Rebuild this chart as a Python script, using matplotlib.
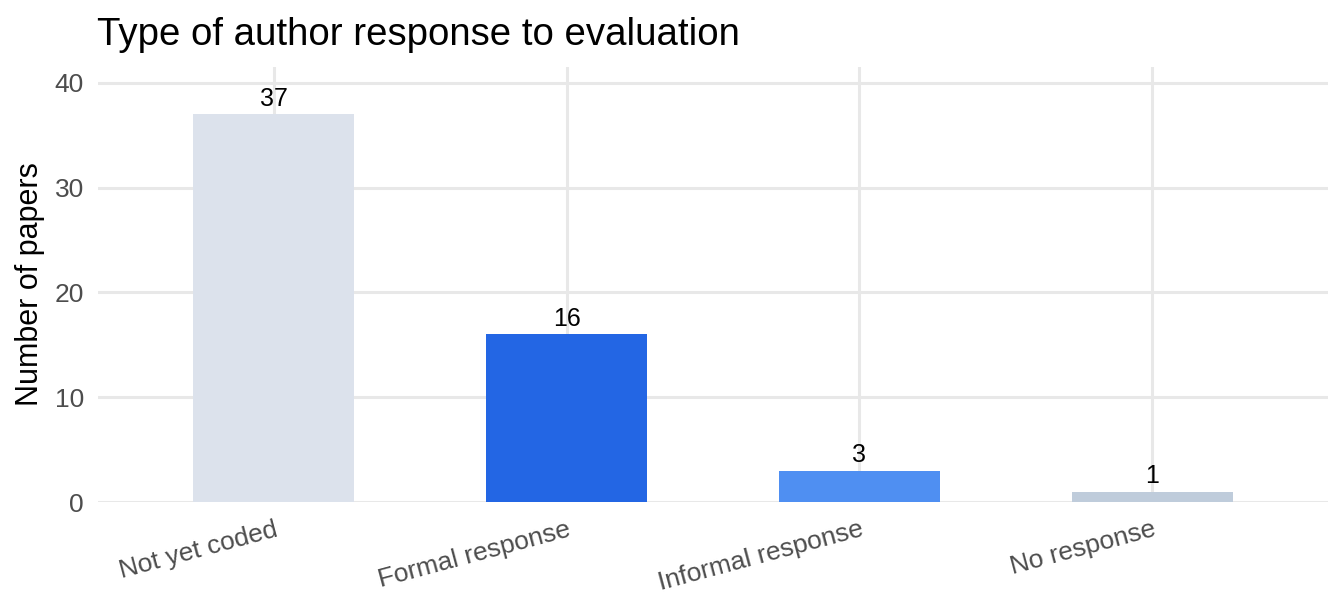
import matplotlib.pyplot as plt
import numpy as np

plt.rcParams['font.family'] = ['Liberation Sans', 'DejaVu Sans']

categories = ['Not yet coded', 'Formal response', 'Informal response', 'No response']
counts = [37, 16, 3, 1]
bar_colors = ['#DCE2EC', '#2366E4', '#4F8FF2', '#BFCCDB']
y_ticks = [0, 10, 20, 30, 40]

fig = plt.figure(figsize=(13.44, 6.14), dpi=100)
ax = fig.add_axes([98 / 1344, 1 - 502 / 614, 1230 / 1344, (502 - 67) / 614])

x = np.arange(len(categories))
ax.bar(x, counts, width=0.55, color=bar_colors, zorder=3)

for xi, c in zip(x, counts):
    ax.text(xi, c + 0.3, str(c), ha='center', va='bottom', fontsize=18, color='black', zorder=4)

ax.set_xlim(-0.6, 3.6)
ax.set_ylim(0, 41.5)
ax.set_yticks(y_ticks)
ax.set_xticks(x)
ax.set_xticklabels(categories, rotation=15, ha='right', va='top', rotation_mode='anchor')

ax.grid(True, color='#E8E8E8', linewidth=2.2, zorder=0)
ax.set_axisbelow(True)
for s in ax.spines.values():
    s.set_visible(False)
ax.tick_params(axis='both', length=0, labelsize=19, labelcolor='#4D4D4D')
ax.tick_params(axis='y', pad=10)
ax.tick_params(axis='x', pad=11)

ax.set_ylabel('Number of papers', fontsize=22, color='black', labelpad=7)

fig.text(97 / 1344, 1 - 45 / 614, 'Type of author response to evaluation',
         fontsize=27.6, color='black', ha='left', va='baseline')

fig.savefig('out.png', dpi=100, facecolor='white')
